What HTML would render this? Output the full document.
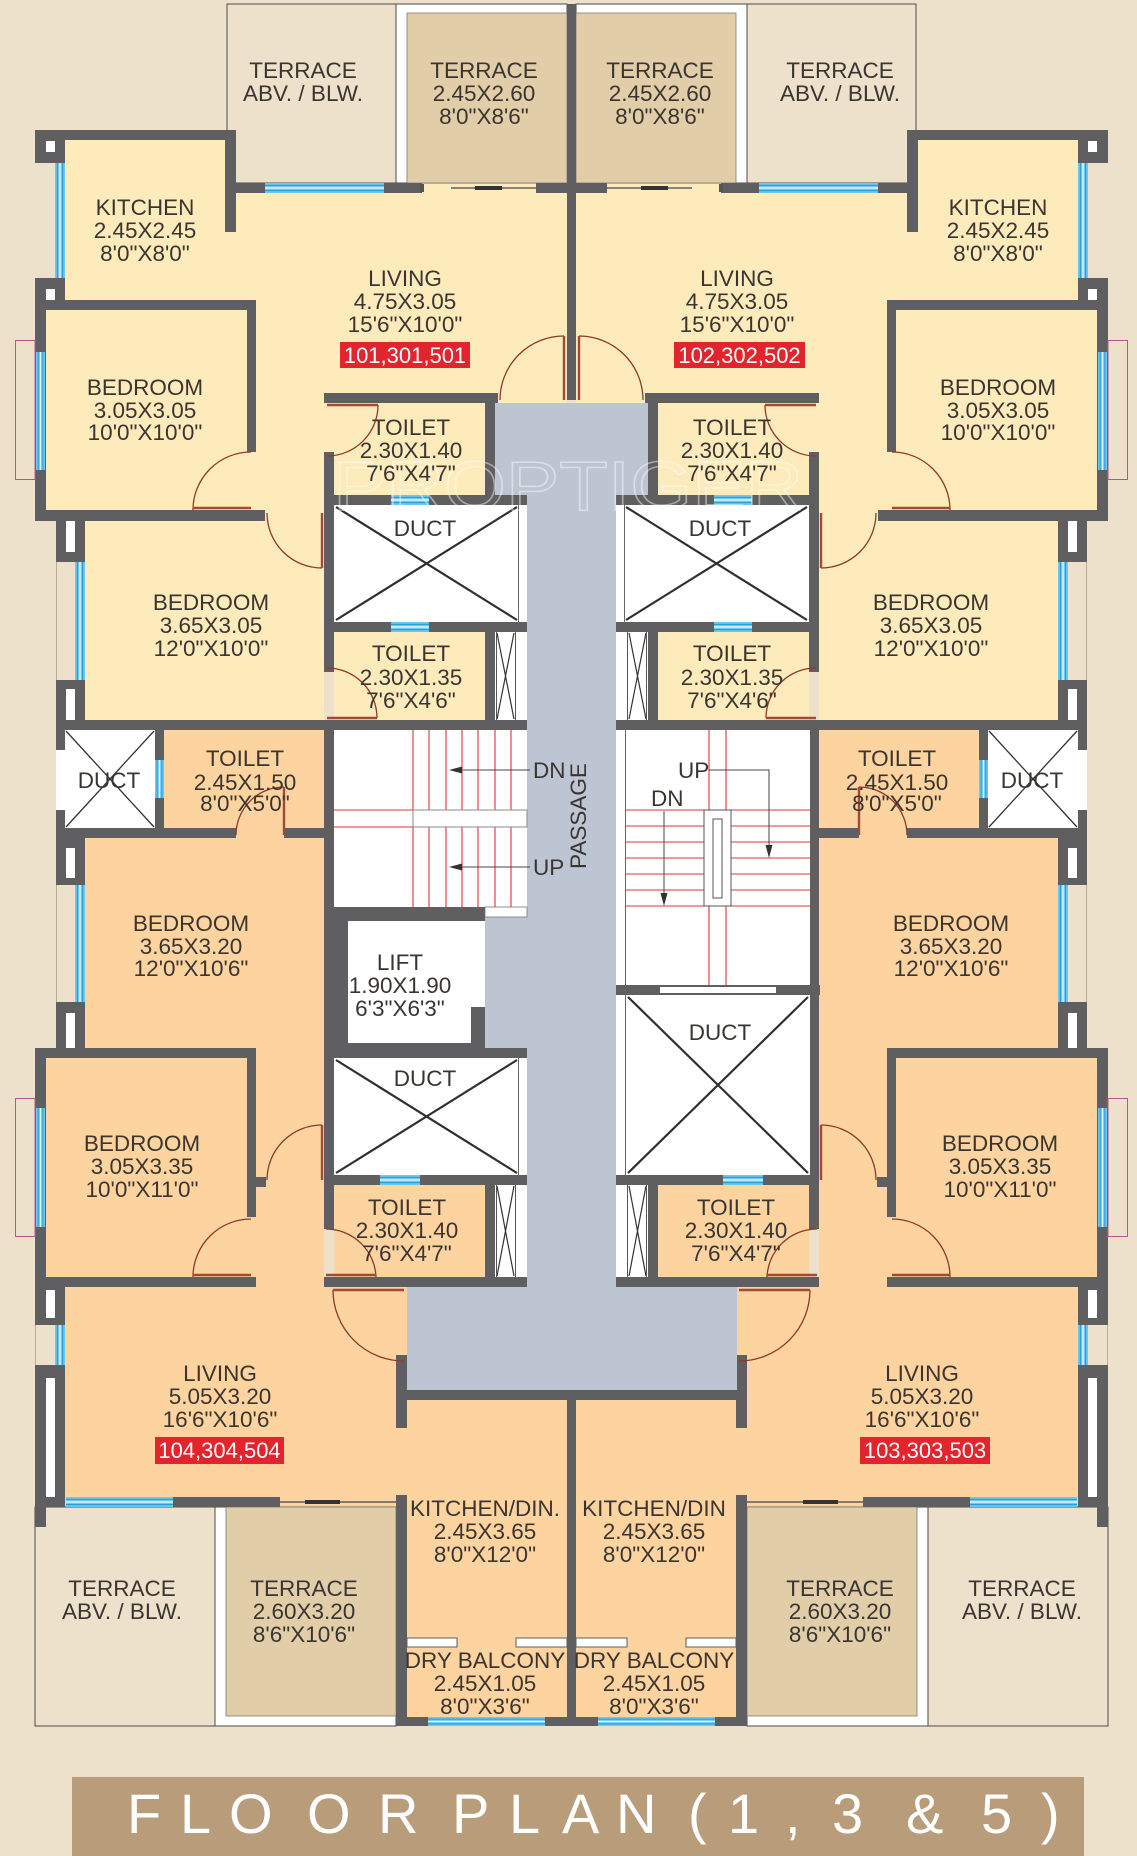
<!DOCTYPE html>
<html><head><meta charset="utf-8">
<style>
html,body{margin:0;padding:0;background:#ede1cc;}
svg{display:block;}
.t{font-family:"Liberation Sans",Arial,sans-serif;font-size:22.5px;fill:#3a3530;text-anchor:middle;}
.s{font-family:"Liberation Sans",Arial,sans-serif;font-size:22.5px;fill:#3a3530;text-anchor:start;}
.b{font-family:"Liberation Sans",Arial,sans-serif;font-size:22px;fill:#fff;text-anchor:middle;}
</style></head><body>
<svg width="1137" height="1856" viewBox="0 0 1137 1856" xmlns="http://www.w3.org/2000/svg">
<defs>
<pattern id="wh" width="1" height="1" patternContentUnits="objectBoundingBox">
<rect width="1" height="1" fill="#6cc8ee"/>
<rect y="0.18" width="1" height="0.12" fill="#2d9fd4"/>
<rect y="0.43" width="1" height="0.14" fill="#e8f7fc"/>
<rect y="0.70" width="1" height="0.12" fill="#2d9fd4"/>
</pattern>
<pattern id="wv" width="1" height="1" patternContentUnits="objectBoundingBox">
<rect width="1" height="1" fill="#6cc8ee"/>
<rect x="0.18" width="0.12" height="1" fill="#2d9fd4"/>
<rect x="0.43" width="0.14" height="1" fill="#e8f7fc"/>
<rect x="0.70" width="0.12" height="1" fill="#2d9fd4"/>
</pattern>
<g id="half">
<g fill="#fdebbc">
<rect x="65" y="140" width="502" height="380"/>
<rect x="46" y="310" width="201" height="200"/>
<rect x="78" y="510" width="246" height="220"/>
<rect x="334" y="632" width="151" height="88"/>
</g>
<g fill="#fdd3a0">
<rect x="164" y="730" width="160" height="108"/>
<rect x="78" y="838" width="246" height="220"/>
<rect x="46" y="1048" width="278" height="239"/>
<rect x="65" y="1287" width="342" height="220"/>
<rect x="396" y="1390" width="171" height="336"/>
<rect x="334" y="1185" width="151" height="92"/>
</g>
<rect x="227" y="4" width="169" height="179" fill="#ede1cc" stroke="#4a4a4a" stroke-width="1"/>
<rect x="396" y="4" width="171" height="179" fill="#fff" stroke="#4a4a4a" stroke-width="1"/>
<rect x="407" y="13" width="160" height="170" fill="#e2cda9" stroke="#7a7a7a" stroke-width="0.8"/>
<rect x="35" y="1507" width="180" height="219" fill="#ede1cc" stroke="#4a4a4a" stroke-width="1"/>
<rect x="215" y="1507" width="181" height="219" fill="#fff" stroke="#4a4a4a" stroke-width="1"/>
<rect x="226" y="1507" width="170" height="209" fill="#e2cda9" stroke="#7a7a7a" stroke-width="0.8"/>
<rect x="334" y="505" width="193" height="117" fill="#fff"/>
<path d="M336 507 L517 620 M517 507 L336 620" stroke="#2f2f2f" stroke-width="2.2" fill="none"/>
<line x1="518.5" y1="505" x2="518.5" y2="622" stroke="#666" stroke-width="1"/>
<rect x="495" y="632" width="32" height="88" fill="#fff"/>
<path d="M497 633 L514 719 M514 633 L497 719" stroke="#333" stroke-width="1.2" fill="none"/>
<path d="M496.5 632 V720 M515.5 632 V720" stroke="#555" stroke-width="1" fill="none"/>
<rect x="495" y="1185" width="32" height="92" fill="#fff"/>
<path d="M497 1186 L514 1276 M514 1186 L497 1276" stroke="#333" stroke-width="1.2" fill="none"/>
<path d="M496.5 1185 V1277 M515.5 1185 V1277" stroke="#555" stroke-width="1" fill="none"/>
<rect x="65" y="730" width="90" height="98" fill="#fff"/>
<path d="M66 731 L154 827 M154 731 L66 827" stroke="#333" stroke-width="1.3" fill="none"/>
<path d="M56.5 562 V680 M56.5 885 V1002 M35.5 1325 V1365" stroke="#b9ad98" stroke-width="1" fill="none"/>
<g fill="#5f5f61">
<rect x="35" y="130" width="201" height="10"/>
<rect x="35" y="130" width="30" height="33"/>
<rect x="225" y="130" width="11" height="102"/>
<rect x="225" y="183" width="40" height="10"/>
<rect x="384" y="183" width="38" height="10"/>
<rect x="536" y="183" width="31" height="10"/>
<rect x="35" y="278" width="30" height="32"/>
<rect x="35" y="300" width="221" height="10"/>
<rect x="247" y="300" width="9" height="152"/>
<rect x="35" y="310" width="11" height="211"/>
<rect x="35" y="510" width="230" height="11"/>
<rect x="324" y="393" width="174" height="10"/>
<rect x="324" y="452" width="10" height="220"/>
<rect x="485" y="403" width="10" height="92"/>
<rect x="324" y="495" width="203" height="10"/>
<rect x="324" y="622" width="203" height="10"/>
<rect x="485" y="632" width="10" height="88"/>
<rect x="56" y="720" width="471" height="10"/>
<rect x="56" y="521" width="29" height="41"/>
<rect x="56" y="680" width="29" height="40"/>
<rect x="56" y="730" width="9" height="108"/>
<rect x="155" y="730" width="9" height="108"/>
<rect x="56" y="828" width="180" height="10"/>
<rect x="284" y="828" width="40" height="10"/>
<rect x="56" y="838" width="29" height="47"/>
<rect x="56" y="1002" width="29" height="46"/>
<rect x="35" y="1048" width="221" height="10"/>
<rect x="35" y="1048" width="11" height="239"/>
<rect x="247" y="1048" width="9" height="169"/>
<rect x="256" y="1177" width="10" height="10"/>
<rect x="35" y="1277" width="221" height="10"/>
<rect x="324" y="730" width="10" height="499"/>
<rect x="324" y="1277" width="203" height="10"/>
<rect x="324" y="1175" width="203" height="10"/>
<rect x="485" y="1185" width="10" height="92"/>
<rect x="35" y="1287" width="30" height="38"/>
<rect x="35" y="1365" width="30" height="142"/>
<rect x="35" y="1507" width="11" height="20"/>
<rect x="173" y="1497" width="107" height="10"/>
<rect x="396" y="1495" width="11" height="231"/>
<rect x="396" y="1355" width="11" height="73"/>
<rect x="396" y="1390" width="175.5" height="10"/>
<rect x="396" y="1717" width="32" height="9"/>
<rect x="545" y="1717" width="26.5" height="9"/>
</g>
<g fill="#fff">
<rect x="46" y="141" width="9" height="11"/>
<rect x="46" y="289" width="9" height="11"/>
<rect x="66" y="521" width="9" height="31"/>
<rect x="66" y="689" width="9" height="31"/>
<rect x="56" y="750" width="9" height="60"/>
<rect x="66" y="848" width="9" height="30"/>
<rect x="66" y="1013" width="9" height="35"/>
<rect x="46" y="1290" width="9" height="28"/>
<rect x="46" y="1378" width="9" height="119"/>
</g>
<rect x="265" y="183" width="119" height="10" fill="url(#wh)"/>
<rect x="55" y="163" width="10" height="115" fill="url(#wv)"/>
<rect x="36" y="352" width="9" height="118" fill="url(#wv)"/>
<rect x="391" y="495" width="38" height="10" fill="url(#wh)"/>
<rect x="391" y="622" width="38" height="10" fill="url(#wh)"/>
<rect x="75" y="562" width="10" height="118" fill="url(#wv)"/>
<rect x="155" y="760" width="9" height="38" fill="url(#wv)"/>
<rect x="75" y="885" width="10" height="117" fill="url(#wv)"/>
<rect x="36" y="1108" width="9" height="119" fill="url(#wv)"/>
<rect x="380" y="1175" width="40" height="10" fill="url(#wh)"/>
<rect x="55" y="1325" width="10" height="40" fill="url(#wv)"/>
<rect x="66" y="1497" width="107" height="10" fill="url(#wh)"/>
<rect x="428" y="1717" width="117" height="9" fill="url(#wh)"/>
<rect x="15.5" y="340.5" width="19.5" height="139" fill="none" stroke="#b6568f" stroke-width="1"/>
<rect x="15.5" y="1098.5" width="19.5" height="138" fill="none" stroke="#b6568f" stroke-width="1"/>
<line x1="451" y1="188" x2="536" y2="188" stroke="#444" stroke-width="1.2"/>
<rect x="475" y="186" width="27" height="4" fill="#333"/>
<rect x="420" y="184" width="4" height="8" fill="#555"/>
<line x1="280" y1="1502" x2="396" y2="1502" stroke="#444" stroke-width="1.2"/>
<rect x="305" y="1500" width="35" height="4" fill="#333"/>
<rect x="407" y="1638" width="50" height="9" fill="#fff" stroke="#5f5f61" stroke-width="1"/>
<rect x="516" y="1638" width="51" height="9" fill="#fff" stroke="#5f5f61" stroke-width="1"/>
<g fill="none" stroke="#8c3a2c" stroke-width="1.3">
<path d="M500 400 A64 64 0 0 1 564 336"/>
<path d="M333 1290 A71 71 0 0 0 404 1361"/>
<path d="M251 452 A58 58 0 0 0 193 510"/>
<path d="M267 513 A55 55 0 0 0 322 568"/>
<path d="M327 456 A51 51 0 0 0 378 405"/>
<path d="M327 668 A50 50 0 0 1 377 718"/>
<path d="M284 787 A48 48 0 0 0 236 835"/>
<path d="M322 1125 A55 55 0 0 0 267 1180"/>
<path d="M251 1219 A58 58 0 0 0 193 1277"/>
<path d="M326 1229 A50 50 0 0 1 376 1277"/>
</g>
<g fill="none" stroke="#a04a38" stroke-width="2.4">
<path d="M564 336 V400"/>
<path d="M333 1290 H404"/>
<path d="M193 508 H251"/>
<path d="M322 513 V568"/>
<path d="M327 405 H378"/>
<path d="M327 718 H377"/>
<path d="M284 787 V835"/>
<path d="M322 1125 V1180"/>
<path d="M193 1275 H251"/>
<path d="M326 1275 H376"/>
</g>
</g>
</defs>

<rect width="1137" height="1856" fill="#ede1cc"/>
<use href="#half"/>
<use href="#half" transform="translate(1143,0) scale(-1,1)"/>

<polygon points="495,403 648,403 648,495 616,495 616,1287 737,1287 737,1390 407,1390 407,1287 527,1287 527,1048 485,1048 485,917 527,917 527,495 495,495" fill="#bdc5d2"/>

<rect x="567" y="4" width="9" height="396" fill="#5f5f61"/>
<rect x="567" y="1390" width="9" height="336" fill="#5f5f61"/>

<rect x="334" y="730" width="193" height="177" fill="#fff"/>
<path d="M413 730V810M429 730V810M446 730V810M462 730V810M478 730V810M495 730V810M511 730V810M413 827V907M429 827V907M446 827V907M462 827V907M478 827V907M495 827V907M511 827V907M334 810H413M334 827H413" stroke="#e0323a" stroke-width="1.1" fill="none"/>
<rect x="413" y="810" width="114" height="17" fill="#fff" stroke="#8a8a8a" stroke-width="1"/>
<path d="M452 770H530M452 867H530" stroke="#444" stroke-width="1" fill="none"/>
<polygon points="449,770 462,766.5 462,773.5" fill="#333"/>
<polygon points="449,867 462,863.5 462,870.5" fill="#333"/>
<rect x="334" y="907" width="151" height="151" fill="#5f5f61"/>
<rect x="348" y="921" width="123" height="122" fill="#fff"/>
<rect x="471" y="921" width="14" height="86" fill="#fff"/>
<rect x="485" y="907" width="42" height="10" fill="#fff" stroke="#777" stroke-width="0.8"/>
<rect x="485" y="1048" width="42" height="10" fill="#5f5f61"/>
<rect x="334" y="1058" width="193" height="117" fill="#fff"/>
<path d="M336 1060 L517 1173 M517 1060 L336 1173" stroke="#2f2f2f" stroke-width="2.2" fill="none"/>
<line x1="518.5" y1="1058" x2="518.5" y2="1175" stroke="#666" stroke-width="1"/>

<rect x="616" y="730" width="194" height="255" fill="#fff"/>
<path d="M626 810H810M626 826H810M626 842H810M626 858H810M626 874H810M626 890H810M626 906H810M709 730V985M726 730V985" stroke="#e0323a" stroke-width="1.1" fill="none"/>
<rect x="704" y="810" width="27" height="96" fill="#fff" stroke="#555" stroke-width="1"/>
<rect x="713" y="819" width="9" height="79" fill="#fff" stroke="#555" stroke-width="1"/>
<path d="M709 770H769V848M664 811V896" stroke="#444" stroke-width="1" fill="none"/>
<polygon points="769,858 765.5,845 772.5,845" fill="#333"/>
<polygon points="664,906 660.5,893 667.5,893" fill="#333"/>
<rect x="616" y="985" width="204" height="10" fill="#5f5f61"/>
<rect x="660" y="987" width="116" height="6" fill="#fff"/>
<rect x="616" y="995" width="194" height="180" fill="#fff"/>
<path d="M628 997 L808 1173 M808 997 L628 1173" stroke="#2f2f2f" stroke-width="2.2" fill="none"/>
<line x1="625.5" y1="730" x2="625.5" y2="1175" stroke="#666" stroke-width="1"/>

<!-- watermark -->
<text x="333" y="510" font-family="Liberation Sans, Arial, sans-serif" font-size="70" textLength="470" lengthAdjust="spacingAndGlyphs" fill="none" stroke="#ffffff" stroke-width="1.5" opacity="0.45">PROPTIGER</text>

<!-- LABELS LEFT -->
<text class="t" x="303" y="78">TERRACE</text>
<text class="t" x="303" y="101">ABV. / BLW.</text>
<text class="t" x="484" y="78">TERRACE</text>
<text class="t" x="484" y="101">2.45X2.60</text>
<text class="t" x="484" y="124">8'0"X8'6"</text>
<text class="t" x="145" y="215">KITCHEN</text>
<text class="t" x="145" y="238">2.45X2.45</text>
<text class="t" x="145" y="261">8'0"X8'0"</text>
<text class="t" x="405" y="286">LIVING</text>
<text class="t" x="405" y="309">4.75X3.05</text>
<text class="t" x="405" y="332">15'6"X10'0"</text>
<rect x="340" y="342" width="130" height="26" fill="#e2252c"/>
<text class="b" x="405" y="363">101,301,501</text>
<text class="t" x="145" y="395">BEDROOM</text>
<text class="t" x="145" y="418">3.05X3.05</text>
<text class="t" x="145" y="440">10'0"X10'0"</text>
<text class="t" x="411" y="435">TOILET</text>
<text class="t" x="411" y="458">2.30X1.40</text>
<text class="t" x="411" y="481">7'6"X4'7"</text>
<text class="t" x="425" y="536">DUCT</text>
<text class="t" x="211" y="610">BEDROOM</text>
<text class="t" x="211" y="633">3.65X3.05</text>
<text class="t" x="211" y="656">12'0"X10'0"</text>
<text class="t" x="411" y="661">TOILET</text>
<text class="t" x="411" y="685">2.30X1.35</text>
<text class="t" x="411" y="708">7'6"X4'6"</text>
<text class="t" x="109" y="788">DUCT</text>
<text class="t" x="245" y="766">TOILET</text>
<text class="t" x="245" y="790">2.45X1.50</text>
<text class="t" x="245" y="811">8'0"X5'0"</text>
<text class="s" x="533" y="778">DN</text>
<text class="s" x="533" y="875">UP</text>
<text class="t" transform="translate(586,816) rotate(-90)">PASSAGE</text>
<text class="t" x="191" y="931">BEDROOM</text>
<text class="t" x="191" y="954">3.65X3.20</text>
<text class="t" x="191" y="976">12'0"X10'6"</text>
<text class="t" x="400" y="970">LIFT</text>
<text class="t" x="400" y="993">1.90X1.90</text>
<text class="t" x="400" y="1016">6'3"X6'3"</text>
<text class="t" x="425" y="1086">DUCT</text>
<text class="t" x="142" y="1151">BEDROOM</text>
<text class="t" x="142" y="1174">3.05X3.35</text>
<text class="t" x="142" y="1197">10'0"X11'0"</text>
<text class="t" x="407" y="1215">TOILET</text>
<text class="t" x="407" y="1238">2.30X1.40</text>
<text class="t" x="407" y="1261">7'6"X4'7"</text>
<text class="t" x="220" y="1381">LIVING</text>
<text class="t" x="220" y="1404">5.05X3.20</text>
<text class="t" x="220" y="1427">16'6"X10'6"</text>
<rect x="155" y="1437" width="129" height="27" fill="#e2252c"/>
<text class="b" x="219.5" y="1458">104,304,504</text>
<text class="t" x="485" y="1516">KITCHEN/DIN.</text>
<text class="t" x="485" y="1539">2.45X3.65</text>
<text class="t" x="485" y="1562">8'0"X12'0"</text>
<text class="t" x="122" y="1596">TERRACE</text>
<text class="t" x="122" y="1619">ABV. / BLW.</text>
<text class="t" x="304" y="1596">TERRACE</text>
<text class="t" x="304" y="1619">2.60X3.20</text>
<text class="t" x="304" y="1642">8'6"X10'6"</text>
<text class="t" x="485" y="1668">DRY BALCONY</text>
<text class="t" x="485" y="1691">2.45X1.05</text>
<text class="t" x="485" y="1714">8'0"X3'6"</text>

<!-- LABELS RIGHT -->
<text class="t" x="840" y="78">TERRACE</text>
<text class="t" x="840" y="101">ABV. / BLW.</text>
<text class="t" x="660" y="78">TERRACE</text>
<text class="t" x="660" y="101">2.45X2.60</text>
<text class="t" x="660" y="124">8'0"X8'6"</text>
<text class="t" x="998" y="215">KITCHEN</text>
<text class="t" x="998" y="238">2.45X2.45</text>
<text class="t" x="998" y="261">8'0"X8'0"</text>
<text class="t" x="737" y="286">LIVING</text>
<text class="t" x="737" y="309">4.75X3.05</text>
<text class="t" x="737" y="332">15'6"X10'0"</text>
<rect x="674" y="342" width="131" height="26" fill="#e2252c"/>
<text class="b" x="739.5" y="363">102,302,502</text>
<text class="t" x="998" y="395">BEDROOM</text>
<text class="t" x="998" y="418">3.05X3.05</text>
<text class="t" x="998" y="440">10'0"X10'0"</text>
<text class="t" x="732" y="435">TOILET</text>
<text class="t" x="732" y="458">2.30X1.40</text>
<text class="t" x="732" y="481">7'6"X4'7"</text>
<text class="t" x="720" y="536">DUCT</text>
<text class="t" x="931" y="610">BEDROOM</text>
<text class="t" x="931" y="633">3.65X3.05</text>
<text class="t" x="931" y="656">12'0"X10'0"</text>
<text class="t" x="732" y="661">TOILET</text>
<text class="t" x="732" y="685">2.30X1.35</text>
<text class="t" x="732" y="708">7'6"X4'6"</text>
<text class="t" x="1032" y="788">DUCT</text>
<text class="t" x="897" y="766">TOILET</text>
<text class="t" x="897" y="790">2.45X1.50</text>
<text class="t" x="897" y="811">8'0"X5'0"</text>
<text class="s" x="678" y="778">UP</text>
<text class="s" x="651" y="806">DN</text>
<text class="t" x="951" y="931">BEDROOM</text>
<text class="t" x="951" y="954">3.65X3.20</text>
<text class="t" x="951" y="976">12'0"X10'6"</text>
<text class="t" x="720" y="1040">DUCT</text>
<text class="t" x="1000" y="1151">BEDROOM</text>
<text class="t" x="1000" y="1174">3.05X3.35</text>
<text class="t" x="1000" y="1197">10'0"X11'0"</text>
<text class="t" x="736" y="1215">TOILET</text>
<text class="t" x="736" y="1238">2.30X1.40</text>
<text class="t" x="736" y="1261">7'6"X4'7"</text>
<text class="t" x="922" y="1381">LIVING</text>
<text class="t" x="922" y="1404">5.05X3.20</text>
<text class="t" x="922" y="1427">16'6"X10'6"</text>
<rect x="860" y="1437" width="130" height="27" fill="#e2252c"/>
<text class="b" x="925" y="1458">103,303,503</text>
<text class="t" x="654" y="1516">KITCHEN/DIN</text>
<text class="t" x="654" y="1539">2.45X3.65</text>
<text class="t" x="654" y="1562">8'0"X12'0"</text>
<text class="t" x="840" y="1596">TERRACE</text>
<text class="t" x="840" y="1619">2.60X3.20</text>
<text class="t" x="840" y="1642">8'6"X10'6"</text>
<text class="t" x="1022" y="1596">TERRACE</text>
<text class="t" x="1022" y="1619">ABV. / BLW.</text>
<text class="t" x="654" y="1668">DRY BALCONY</text>
<text class="t" x="654" y="1691">2.45X1.05</text>
<text class="t" x="654" y="1714">8'0"X3'6"</text>

<rect x="72" y="1777" width="1012" height="79" fill="#b99c7a"/>
<text x="127 180 229 307 378 452 509 562 616 688 728 785 832 906 981 1041" y="1833" font-family="Liberation Sans, Arial, sans-serif" font-size="56" fill="#fff">FLOORPLAN(1,3&amp;5)</text>
</svg>
</body></html>
